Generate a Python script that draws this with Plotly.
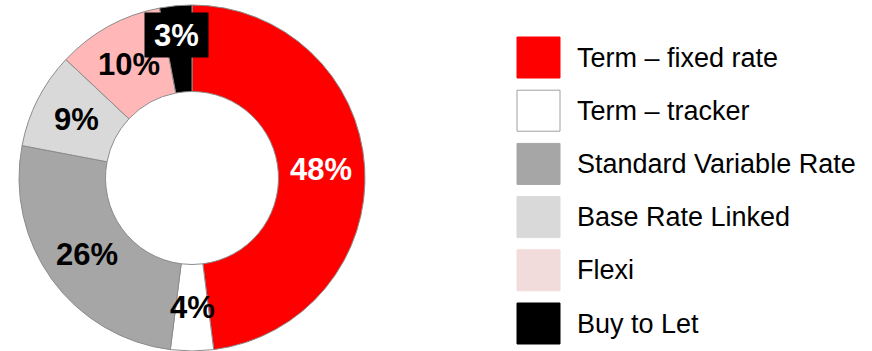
import math
import plotly.graph_objects as go

# Mortgage book split by product type (%)
products = ["Term – fixed rate", "Term – tracker", "Standard Variable Rate",
            "Base Rate Linked", "Flexi", "Buy to Let"]
shares = [48, 4, 26, 9, 10, 3]

slice_colors = ["#FF0000", "#FFFFFF", "#A6A6A6", "#D9D9D9", "#FFB7B7", "#000000"]
legend_colors = ["#FF0000", "#FFFFFF", "#A6A6A6", "#D9D9D9", "#F2DCDB", "#000000"]
label_colors = ["#FFFFFF", "#000000", "#000000", "#000000", "#000000", "#FFFFFF"]

W, H = 872, 351
FONT = "Liberation Sans, Arial, sans-serif"

# donut geometry (pixels): centre, outer radius, hole fraction
CX, CY, R_OUT, HOLE = 192, 178, 173, 0.5

fig = go.Figure(go.Pie(
    labels=products,
    values=shares,
    textinfo="none",
    marker=dict(colors=slice_colors, line=dict(color="#8C8C8C", width=1)),
    hole=HOLE,
    sort=False,
    direction="clockwise",
    rotation=0,
    showlegend=False,
    domain=dict(x=[(CX - R_OUT) / W, (CX + R_OUT) / W],
                y=[1 - (CY + R_OUT) / H, 1 - (CY - R_OUT) / H]),
))

# percentage labels at the middle of each ring segment
total = sum(shares)
r_mid = R_OUT * (1 + HOLE) / 2
start = 0.0
for name, v, tc in zip(products, shares, label_colors):
    mid = (start + v / 2) / total * 2 * math.pi
    start += v
    px = CX + r_mid * math.sin(mid)
    py = CY - r_mid * math.cos(mid)
    boxed = name == "Buy to Let"
    if boxed:
        # small slice: label lifted towards the rim on a black box
        px, py = 176.5, 35
    fig.add_annotation(
        x=px / W, y=1 - py / H, xref="paper", yref="paper",
        text=f"<b>{v}%</b>", showarrow=False,
        font=dict(family=FONT, size=31, color=tc),
        xanchor="center", yanchor="middle",
        bgcolor="#000000" if boxed else None,
        borderpad=0,
        width=63 if boxed else None, height=44 if boxed else None,
    )

# legend: large swatches with labels
sw_x0, sw_w, sw_h = 517, 43, 41
row_y0, row_step = 57.5, 53.2
for i, (name, col) in enumerate(zip(products, legend_colors)):
    yc = row_y0 + i * row_step
    fig.add_shape(
        type="rect", xref="paper", yref="paper",
        x0=sw_x0 / W, x1=(sw_x0 + sw_w) / W,
        y0=1 - (yc - sw_h / 2) / H, y1=1 - (yc + sw_h / 2) / H,
        fillcolor=col,
        line=dict(color="#A0A0A0" if col == "#FFFFFF" else col, width=1),
    )
    fig.add_annotation(
        x=575 / W, y=1 - yc / H, xref="paper", yref="paper",
        text=name, showarrow=False, xanchor="left", yanchor="middle",
        font=dict(family=FONT, size=27, color="#000000"),
    )

fig.update_layout(
    width=W, height=H,
    margin=dict(l=0, r=0, t=0, b=0),
    paper_bgcolor="#FFFFFF", plot_bgcolor="#FFFFFF",
)

fig.write_html("out.html")
